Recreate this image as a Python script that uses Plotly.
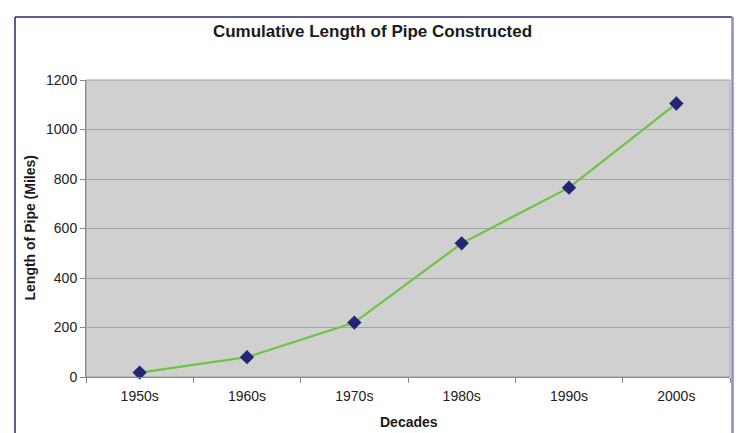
import plotly.graph_objects as go

decades = ["1950s", "1960s", "1970s", "1980s", "1990s", "2000s"]
length_miles = [18, 80, 220, 540, 765, 1105]
y_ticks = [0, 200, 400, 600, 800, 1000, 1200]

W, H = 739, 433
ml, mr, mt, mb = 86, 9, 80, 56
pw, ph = W - ml - mr, H - mt - mb

def px(x):
    return (x - ml) / pw

def py(y):
    return (H - mb - y) / ph

font = "Liberation Sans, Arial, sans-serif"

fig = go.Figure()
fig.add_trace(go.Scatter(
    x=decades, y=length_miles, mode="lines+markers",
    line=dict(color="#6cc540", width=2.2),
    marker=dict(symbol="diamond", size=11, color="#252577"),
    showlegend=False, cliponaxis=False,
))

fig.update_layout(
    width=W, height=H,
    margin=dict(l=ml, r=mr, t=mt, b=mb),
    paper_bgcolor="white",
    plot_bgcolor="#d0d0d0",
    font=dict(family=font, color="#222222", size=14),
    title=dict(text="<b>Cumulative Length of Pipe Constructed</b>",
               x=372.5 / W, xref="container", xanchor="center",
               y=1 - 31 / H, yref="container", yanchor="middle",
               font=dict(size=17, color="#1a1a1a", family=font)),
    xaxis=dict(type="category", tickson="boundaries", ticks="outside",
               range=[-0.5, len(decades) - 0.5],
               ticklen=5, tickcolor="#888888", showgrid=False,
               showline=True, linecolor="#888888", linewidth=1,
               tickfont=dict(size=14), mirror=False, ticklabelstandoff=6),
    yaxis=dict(range=[0, 1200], tickvals=y_ticks, ticks="outside",
               ticklen=5, tickcolor="#888888", showgrid=True,
               gridcolor="#a4a4a4", gridwidth=1,
               showline=True, linecolor="#888888", linewidth=1,
               tickfont=dict(size=14), zeroline=False),
    annotations=[
        dict(text="<b>Decades</b>", xref="paper", yref="paper",
             x=px(408.5), y=py(422), xanchor="center", yanchor="middle",
             showarrow=False, font=dict(size=14, color="#1a1a1a")),
        dict(text="<b>Length of Pipe (Miles)</b>", xref="paper", yref="paper",
             x=px(29), y=py(228.5), xanchor="center", yanchor="middle",
             textangle=-90, showarrow=False, font=dict(size=14, color="#1a1a1a")),
    ],
    shapes=[
        # plot area border
        dict(type="rect", xref="paper", yref="paper", x0=0, x1=1, y0=0, y1=1,
             line=dict(color="#a0a0a0", width=1), layer="below"),
        # outer frame
        dict(type="line", xref="paper", yref="paper", x0=px(15), x1=px(15),
             y0=py(17), y1=py(440), line=dict(color="#2a2a6e", width=1.5)),
        dict(type="line", xref="paper", yref="paper", x0=px(15), x1=px(732),
             y0=py(17), y1=py(17), line=dict(color="#2a2a6e", width=1.5)),
        dict(type="line", xref="paper", yref="paper", x0=px(732.5), x1=px(732.5),
             y0=py(17), y1=py(440), line=dict(color="#8c8cc4", width=2.5)),
    ],
)

fig.write_html("out.html", config={"displayModeBar": False},
               post_script="document.body.style.margin='0';document.body.style.overflow='hidden';")
